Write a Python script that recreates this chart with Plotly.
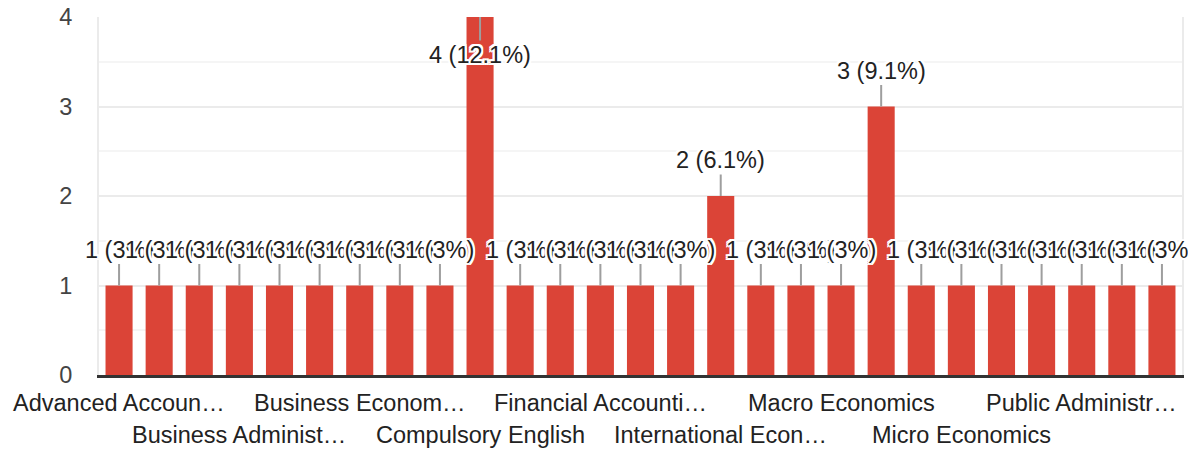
import plotly.graph_objects as go

categories = [
    "Advanced Accountancy", "Auditing", "Banking", "Business Administration",
    "Business Analytics", "Business Communication", "Business Economics",
    "Business Law", "Business Statistics", "Compulsory English",
    "Corporate Finance", "Development Economics", "Financial Accounting",
    "Financial Management", "Human Resource Management", "International Economics",
    "International Trade", "Labour Economics", "Macro Economics",
    "Managerial Economics", "Marketing Management", "Micro Economics",
    "Political Science", "Principles of Management", "Public Administration",
    "Public Finance", "Taxation",
]
counts = [1, 1, 1, 1, 1, 1, 1, 1, 1, 4, 1, 1, 1, 1, 1, 2, 1, 1, 1, 3, 1, 1, 1, 1, 1, 1, 1]

# tick labels as displayed (every third category, truncated)
tick_positions = [0, 3, 6, 9, 12, 15, 18, 21, 24]
tick_labels = [
    "Advanced Accoun…", "Business Administ…", "Business Econom…",
    "Compulsory English", "Financial Accounti…", "International Econ…",
    "Macro Economics", "Micro Economics", "Public Administr…",
]
y_ticks = [0, 1, 2, 3, 4]

FONT = "Arial, 'Liberation Sans', sans-serif"
RED = "#db4437"
FS = 23.5
total = sum(counts)
ymax = 4

fig = go.Figure()
fig.add_trace(go.Bar(
    x=categories, y=counts, marker=dict(color=RED, line=dict(width=0)),
    hoverinfo="skip",
))

halo = ("#fff 2px 0 0, #fff -2px 0 0, #fff 0 2px 0, #fff 0 -2px 0, "
        "#fff 2px 2px 0, #fff -2px -2px 0, #fff 2px -2px 0, #fff -2px 2px 0")

annotations = []
for cat, v in zip(categories, counts):
    pct = f"{v / total * 100:.1f}".rstrip("0").rstrip(".")
    ay = 38 if v >= ymax else -36
    annotations.append(dict(
        x=cat, y=v, xref="x", yref="y", text=f"{v} ({pct}%)",
        showarrow=True, arrowhead=0, arrowwidth=2, arrowcolor="#9e9e9e",
        ax=0, ay=ay, standoff=0,
        font=dict(family=FONT, size=FS, color="#222", shadow=halo),
    ))

for k, (pos, lab) in enumerate(zip(tick_positions, tick_labels)):
    annotations.append(dict(
        x=categories[pos], y=0, xref="x", yref="paper", text=lab,
        showarrow=False, yanchor="top", xanchor="center",
        yshift=-13 if k % 2 == 0 else -45,
        font=dict(family=FONT, size=FS, color="#222"),
    ))

fig.update_layout(
    width=1188, height=444,
    margin=dict(l=91, r=14, t=9, b=77, autoexpand=False),
    paper_bgcolor="white", plot_bgcolor="white",
    bargap=0.325, showlegend=False,
    annotations=annotations,
    xaxis=dict(
        showticklabels=False, showgrid=False, ticks="", automargin=False,
        showline=True, linecolor="#333", linewidth=3,
        range=[-0.5, len(categories) - 0.5], fixedrange=True,
    ),
    yaxis=dict(
        range=[0, ymax], tickvals=y_ticks, ticktext=[str(t) for t in y_ticks],
        automargin=False, ticklabeloverflow="allow",
        showgrid=True, gridcolor="#ebebeb", gridwidth=2,
        minor=dict(dtick=0.5, showgrid=True, gridcolor="#f5f5f5", gridwidth=2),
        showline=True, linecolor="#ebebeb", linewidth=2, mirror=True,
        zeroline=False, ticks="", ticklabelstandoff=20,
        tickfont=dict(family=FONT, size=FS, color="#444"),
    ),
)

fig.write_html("out.html")
